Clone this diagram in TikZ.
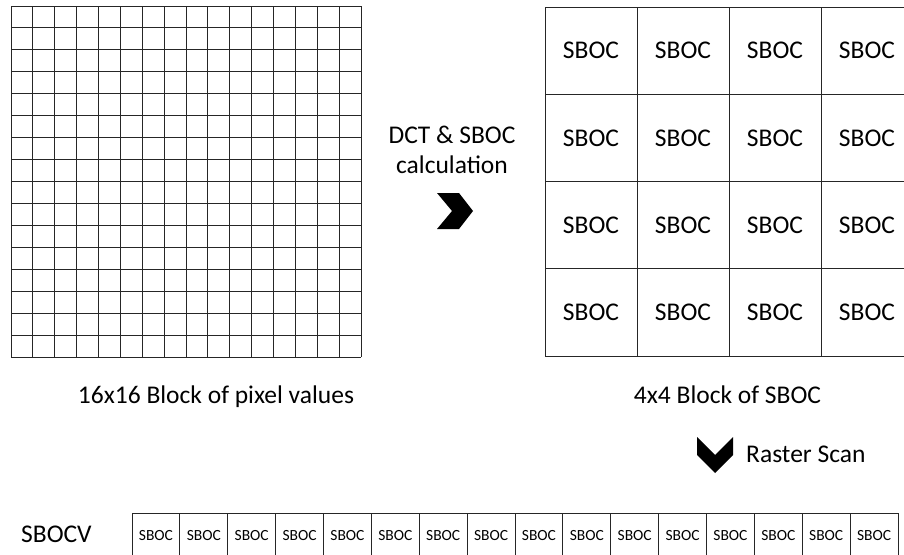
\documentclass[tikz,border=0pt]{standalone}
\usepackage{fontspec}
\setmainfont{Carlito}
\begin{document}
\begin{tikzpicture}[x=1pt,y=-1pt,
  gridline/.style={draw=black!85,line width=0.9pt},
  bigtxt/.style={font=\fontsize{25.5}{29}\selectfont,inner sep=0pt},
  cell/.style={draw=black!85,line width=0.9pt,minimum width=92pt,minimum height=87.3pt,inner sep=0pt,font=\fontsize{25.5}{29}\selectfont},
  smallcell/.style={draw=black!85,line width=0.9pt,minimum width=47.9pt,minimum height=47pt,inner sep=0pt,font=\fontsize{15.5}{18}\selectfont},
  chev/.style={fill=black}]
\useasboundingbox (0,0) rectangle (904,554);
\clip (0,0) rectangle (904,554);
% 16x16 pixel grid
\foreach \i in {0,...,16} {
  \draw[gridline] (11+\i*21.875,6) -- (11+\i*21.875,357);
  \draw[gridline] (11,6+\i*21.9375) -- (361,6+\i*21.9375);
}
% 4x4 SBOC grid
\foreach \r in {0,...,3} {
  \foreach \c in {0,...,3} {
    \node[cell] (s\r\c) at (591+\c*92,50.6+\r*87.3) {\raisebox{-1pt}{SBOC}};
  }
}
% texts
\node[bigtxt,anchor=base] (t1) at (452,143) {DCT \& SBOC};
\node[bigtxt,anchor=base] (t2) at (452,173) {calculation};
\node[bigtxt,anchor=base] (l1) at (216,403) {16x16 Block of pixel values};
\node[bigtxt,anchor=base] (l2) at (727.5,403) {4x4 Block of SBOC};
\node[bigtxt,anchor=base west] (rs) at (746,462) {Raster Scan};
\node[bigtxt,anchor=base west] (sv) at (21,542.5) {SBOCV};
% chevrons
\fill[chev] (437,193) -- (459,193) -- (473,211) -- (459,229) -- (437,229) -- (452,211) -- cycle;
\fill[chev] (697,437) -- (715,455) -- (733,437) -- (733,455) -- (715,473) -- (697,455) -- cycle;
% SBOC vector
\foreach \k in {0,...,15} {
  \node[smallcell] (v\k) at (132+47.875*\k+23.94,536.5) {\raisebox{2.5pt}{SBOC}};
}
\end{tikzpicture}
\end{document}
